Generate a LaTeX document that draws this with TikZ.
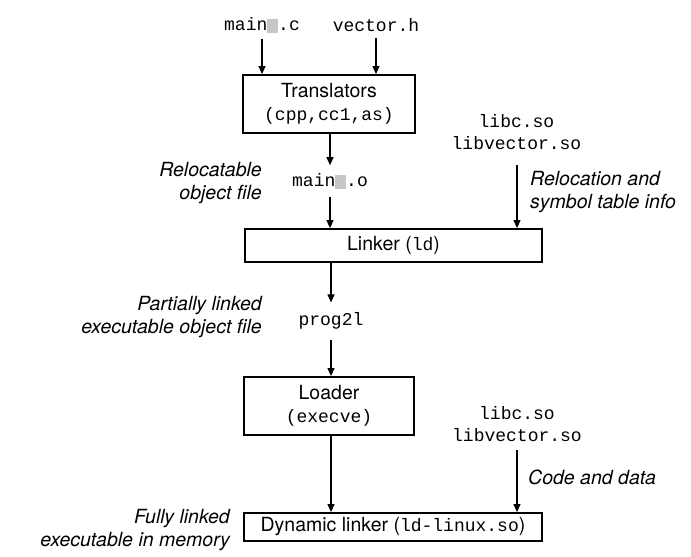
\documentclass[tikz,border=0pt]{standalone}
\usepackage{fontspec}
\setmainfont{TeX Gyre Heros}
\setmonofont{Liberation Mono}
\usetikzlibrary{arrows.meta}
\newcommand\blurch{{\color{black!22}\rule[-0.12em]{0.6em}{0.78em}}}
\begin{document}
\begin{tikzpicture}[x=1pt,y=-1pt,
  every node/.style={inner sep=0pt},
  mono/.style={font=\fontsize{18}{22.5}\selectfont\ttfamily, align=center},
  boxed/.style={draw, line width=1.8pt, align=center, font=\fontsize{19.5}{22.5}\selectfont},
  lbl/.style={font=\fontsize{19.5}{22.5}\selectfont\itshape},
  conn/.style={line width=1.1pt, -{Triangle[length=8pt,width=7pt]}}]
\useasboundingbox (0,0) rectangle (691,557);
% top inputs
\node[mono, inner sep=6pt] (main) at (262,25) {main\blurch.c};
\node[mono, inner sep=6pt] (vec) at (376,25) {vector.h};
% translators
\node[boxed, minimum width=172pt, minimum height=58pt] (trans) at (329,104)
  {Translators\\\texttt{\fontsize{18}{22.5}\selectfont(cpp,cc1,as)}};
\draw[conn] (main.south) -- (main.south |- trans.north);
\draw[conn] (vec.south) -- (vec.south |- trans.north);
% main.o
\node[mono, inner ysep=8pt] (maino) at (330,181) {main\blurch.o};
\node[lbl, align=right, anchor=east] (lreloc) at (262,183) {Relocatable\\object file};
\draw[conn] (trans.south -| maino.north) -- (maino.north);
% linker
\node[boxed, minimum width=297pt, minimum height=33pt] (linker) at (393.5,245.5)
  {Linker (\texttt{\fontsize{18}{22}\selectfont ld})};
\draw[conn] (maino.south) -- (maino.south |- linker.north);
% libs top
\node[mono] (lib1) at (516.5,132) {libc.so\\libvector.so};
\coordinate (lib1s) at (517,165);
\draw[conn] (lib1s) -- (lib1s |- linker.north);
\node[lbl, align=left, anchor=west] (lrel) at (530,192) {Relocation and\\symbol table info};
% prog2l
\node[mono, inner ysep=10pt] (prog) at (331,321) {prog2l};
\node[lbl, align=right, anchor=east] (lpart) at (262,317) {Partially linked\\executable object file};
\draw[conn] (linker.south -| prog.north) -- (prog.north);
% loader
\node[boxed, minimum width=170pt, minimum height=58pt] (loader) at (329,406)
  {Loader\\\texttt{\fontsize{18}{22.5}\selectfont(execve)}};
\draw[conn] (prog.south) -- (prog.south |- loader.north);
% libs bottom
\node[mono] (lib2) at (517,424) {libc.so\\libvector.so};
\coordinate (lib2s) at (517,450);
\node[lbl, anchor=west] (lcode) at (528,477) {Code and data};
% dynamic linker
\node[boxed, minimum width=298pt, minimum height=28pt] (dyn) at (393,527)
  {Dynamic linker (\texttt{\fontsize{18}{22}\selectfont ld-linux.so})};
\draw[conn] (loader.south -| prog.south) -- (prog.south |- dyn.north);
\draw[conn] (lib2s) -- (lib2s |- dyn.north);
\node[lbl, align=right, anchor=east] (lfull) at (230,530) {Fully linked\\executable in memory};
\end{tikzpicture}
\end{document}
